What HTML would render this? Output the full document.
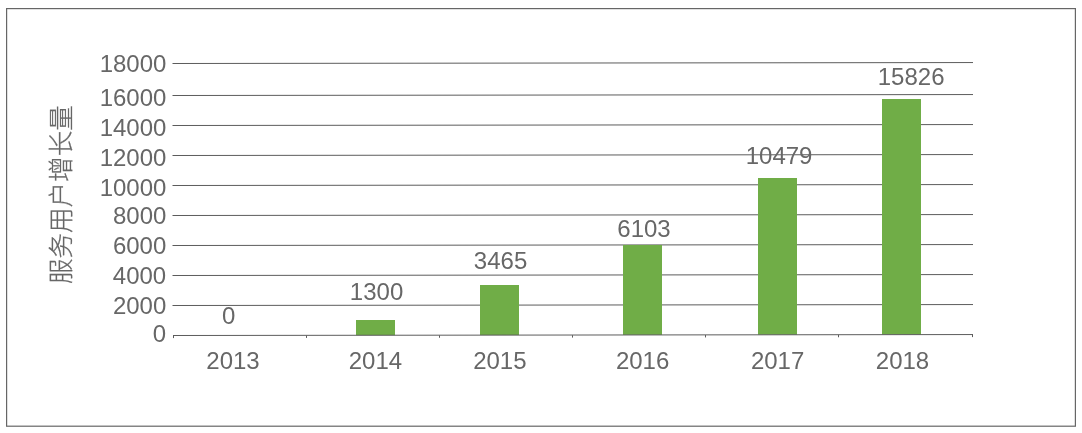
<!DOCTYPE html>
<html lang="zh-CN">
<head>
<meta charset="utf-8">
<title>服务用户增长量</title>
<style>
html,body{margin:0;padding:0;background:#fff;}
body{width:1082px;height:433px;overflow:hidden;}
svg{display:block;}
.n{font-family:"Liberation Sans",sans-serif;font-size:24.0px;fill:#676767;}
.t{font-family:"Liberation Sans","Noto Sans CJK SC",sans-serif;font-weight:300;font-size:25.55px;fill:#676767;stroke:#676767;stroke-width:0.25px;}
</style>
</head>
<body>
<svg width="1082" height="433" viewBox="0 0 1082 433">
<rect x="0" y="0" width="1082" height="433" fill="#ffffff"/>
<rect x="6.6" y="8.6" width="1068.8" height="417.6" fill="none" stroke="#666666" stroke-width="1.2"/>

<g stroke="#5c5c5c" stroke-width="1" fill="none">
<line x1="172.5" y1="63.50" x2="973" y2="62.55"/>
<line x1="172.5" y1="95.50" x2="973" y2="94.55"/>
<line x1="172.5" y1="125.50" x2="973" y2="124.55"/>
<line x1="172.5" y1="155.50" x2="973" y2="154.55"/>
<line x1="172.5" y1="185.50" x2="973" y2="184.55"/>
<line x1="172.5" y1="215.50" x2="973" y2="214.55"/>
<line x1="172.5" y1="245.50" x2="973" y2="244.55"/>
<line x1="172.5" y1="275.50" x2="973" y2="274.55"/>
<line x1="172.5" y1="305.50" x2="973" y2="304.55"/>
</g>
<g fill="#70ad47">
<rect x="356" y="320" width="39" height="15.25"/>
<rect x="480" y="285" width="39" height="50.09"/>
<rect x="623" y="245" width="39" height="89.91"/>
<rect x="758" y="178" width="39" height="156.74"/>
<rect x="882" y="99" width="39" height="235.59"/>
</g>
<g stroke="#5c5c5c" stroke-width="1" fill="none">
<line x1="173" y1="335.5" x2="973" y2="334.55"/>
<line x1="173.5" y1="335.70" x2="173.5" y2="338.10"/>
<line x1="306.5" y1="335.53" x2="306.5" y2="337.93"/>
<line x1="439.5" y1="335.37" x2="439.5" y2="337.77"/>
<line x1="572.5" y1="335.20" x2="572.5" y2="337.60"/>
<line x1="705.5" y1="335.03" x2="705.5" y2="337.43"/>
<line x1="838.5" y1="334.87" x2="838.5" y2="337.27"/>
<line x1="972.5" y1="334.70" x2="972.5" y2="337.10"/>
</g>
<g class="n">
<text x="99.64" y="71.76">18000</text>
<text x="99.64" y="105.86">16000</text>
<text x="99.64" y="135.86">14000</text>
<text x="99.64" y="165.86">12000</text>
<text x="99.64" y="195.86">10000</text>
<text x="112.95" y="223.76">8000</text>
<text x="112.91" y="253.76">6000</text>
<text x="112.80" y="283.76">4000</text>
<text x="112.92" y="313.76">2000</text>
<text x="152.83" y="341.86">0</text>
<text x="222.03" y="323.86">0</text>
<text x="349.86" y="299.61">1300</text>
<text x="473.85" y="268.76">3465</text>
<text x="617.32" y="236.61">6103</text>
<text x="745.69" y="163.76">10479</text>
<text x="877.74" y="84.81">15826</text>
<text x="206.33" y="368.76">2013</text>
<text x="348.70" y="368.76">2014</text>
<text x="473.16" y="368.76">2015</text>
<text x="615.88" y="368.76">2016</text>
<text x="750.90" y="368.76">2017</text>
<text x="875.82" y="368.76">2018</text>
</g>
<text class="t" transform="translate(69.9 284.07) rotate(-90)">服务用户增长量</text>
</svg>
</body>
</html>
